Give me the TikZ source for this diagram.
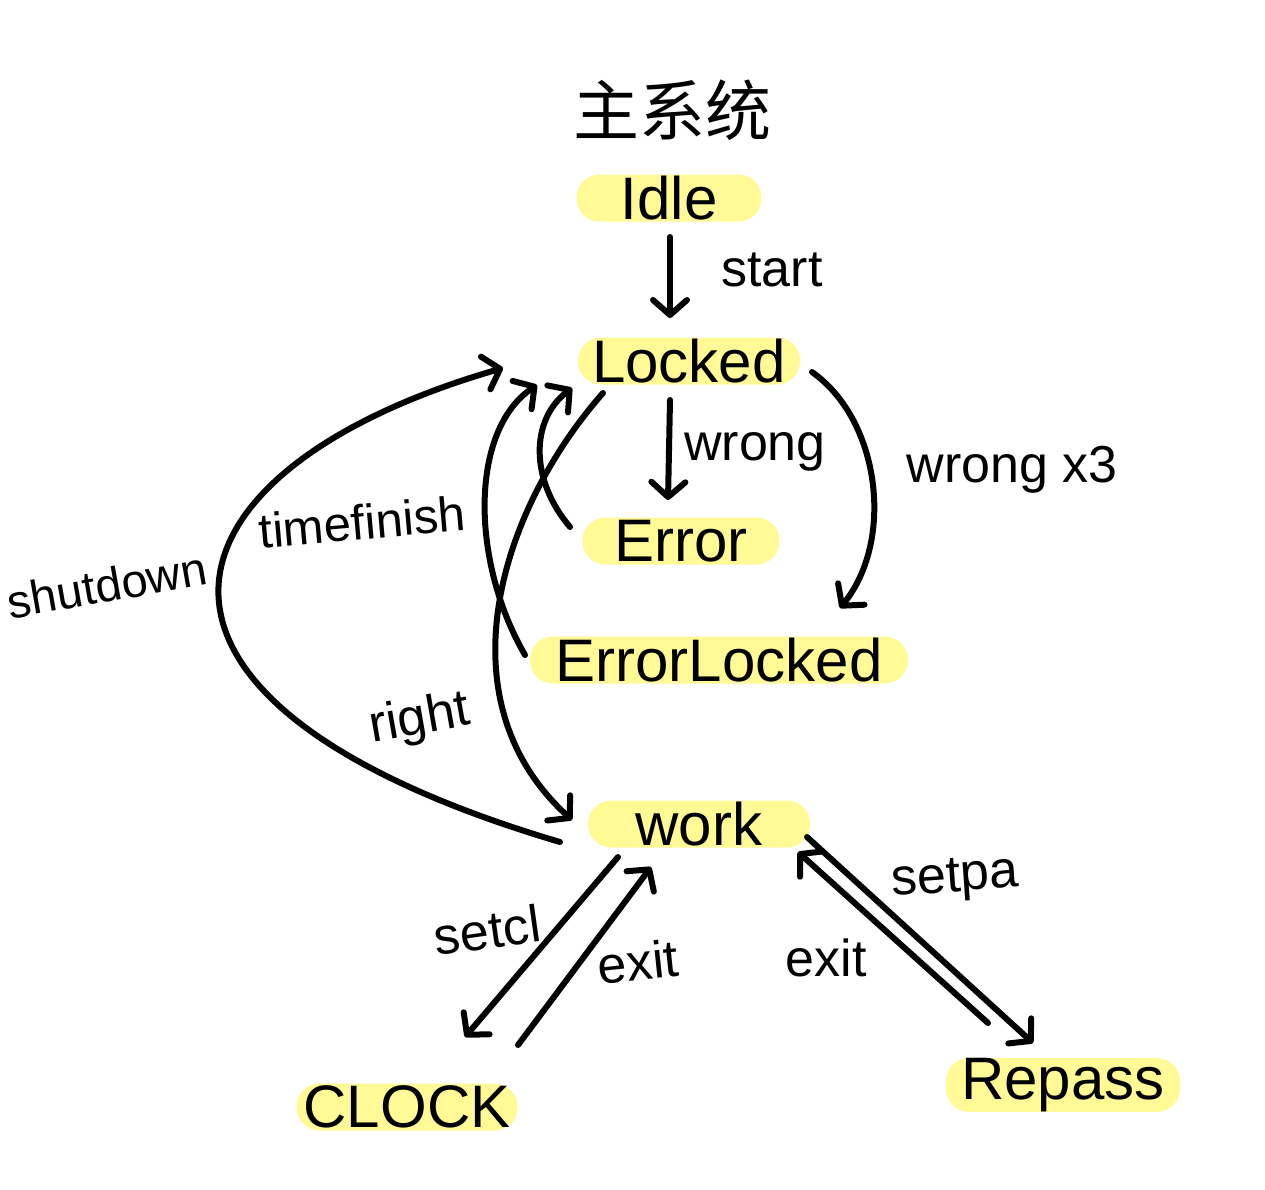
\documentclass[tikz,border=0pt]{standalone}
\usepackage{fontspec}
\setmainfont{Liberation Sans}
\newfontfamily\cjkfont{Noto Sans CJK SC}
\usetikzlibrary{arrows.meta}
\definecolor{hl}{RGB}{255,249,150}
\begin{document}
\begin{tikzpicture}[x=1pt,y=-1pt,
  st/.style={fill=hl, rounded corners=23pt, minimum height=47pt, inner sep=0pt, font=\fontsize{60}{66}\selectfont},
  lbl/.style={font=\fontsize{52}{58}\selectfont, inner sep=0pt},
  arr/.style={line width=6pt, line cap=round, line join=round, -{Straight Barb[round,length=15pt,width=34pt]}}]
\useasboundingbox (0,0) rectangle (1265,1189);
% states
\node[font=\cjkfont\fontsize{66}{72}\selectfont] (title) at (672,110) {主系统};
\node[st, minimum width=185pt] (idle) at (669,198) {Idle};
\node[st, minimum width=222pt] (locked) at (689,361) {Locked};
\node[st, minimum width=197pt] (error) at (681,541) {Error};
\node[st, minimum width=378pt] (errlocked) at (719,660) {ErrorLocked};
\node[st, minimum width=222pt] (work) at (699,824) {work};
\node[st, minimum width=221pt] (clock) at (407,1107) {CLOCK};
\node[st, minimum width=234pt] (repass) at (1063,1085) {Repass};
% transitions
\draw[arr] ([shift={(1,39)}]idle.center) -- ([shift={(-19,-43)}]locked.center);
\draw[arr] ([shift={(-19,39)}]locked.center) -- ([shift={(-13,-41)}]error.center);
\draw[arr] ([shift={(123,11)}]locked.center) .. controls (880,420) and (895,540) .. ([shift={(121,-52)}]errlocked.center);
\draw[arr] ([shift={(-111,-14)}]error.center) .. controls (530,480) and (530,420) .. ([shift={(-117,27)}]locked.center);
\draw[arr] ([shift={(-194,-5)}]errlocked.center) .. controls (470,560) and (470,430) .. ([shift={(-152,24)}]locked.center);
\draw[arr] ([shift={(-86,32)}]locked.center) .. controls (500,510) and (440,700) .. ([shift={(-127,-4)}]work.center);
\draw[arr] ([shift={(-139,18)}]work.center) .. controls (80,700) and (150,470) .. ([shift={(-186,7)}]locked.center);
\draw[arr] ([shift={(-81,33)}]work.center) -- ([shift={(58,-70)}]clock.center);
\draw[arr] ([shift={(111,-62)}]clock.center) -- ([shift={(-48,43)}]work.center);
\draw[arr] ([shift={(108,13)}]work.center) -- ([shift={(-30,-42)}]repass.center);
\draw[arr] ([shift={(-75,-62)}]repass.center) -- ([shift={(99,28)}]work.center);
% labels
\node[lbl] (lstart) at (772,270) {start};
\node[lbl] (lwrong) at (755,452) {wrong};
\node[lbl] (lwrong3) at (1012,470) {wrong x3};
\node[lbl, font=\fontsize{49}{55}\selectfont, rotate=5] (ltime) at (362,522) {timefinish};
\node[lbl, font=\fontsize{47}{53}\selectfont, rotate=10] (lshut) at (107,585) {shutdown};
\node[lbl, rotate=10] (lright) at (420,720) {right};
\node[lbl, rotate=8] (lsetcl) at (487,930) {setcl};
\node[lbl, rotate=6] (lexit1) at (638,962) {exit};
\node[lbl, rotate=4] (lsetpa) at (955,880) {setpa};
\node[lbl] (lexit2) at (826,958) {exit};
\end{tikzpicture}
\end{document}
